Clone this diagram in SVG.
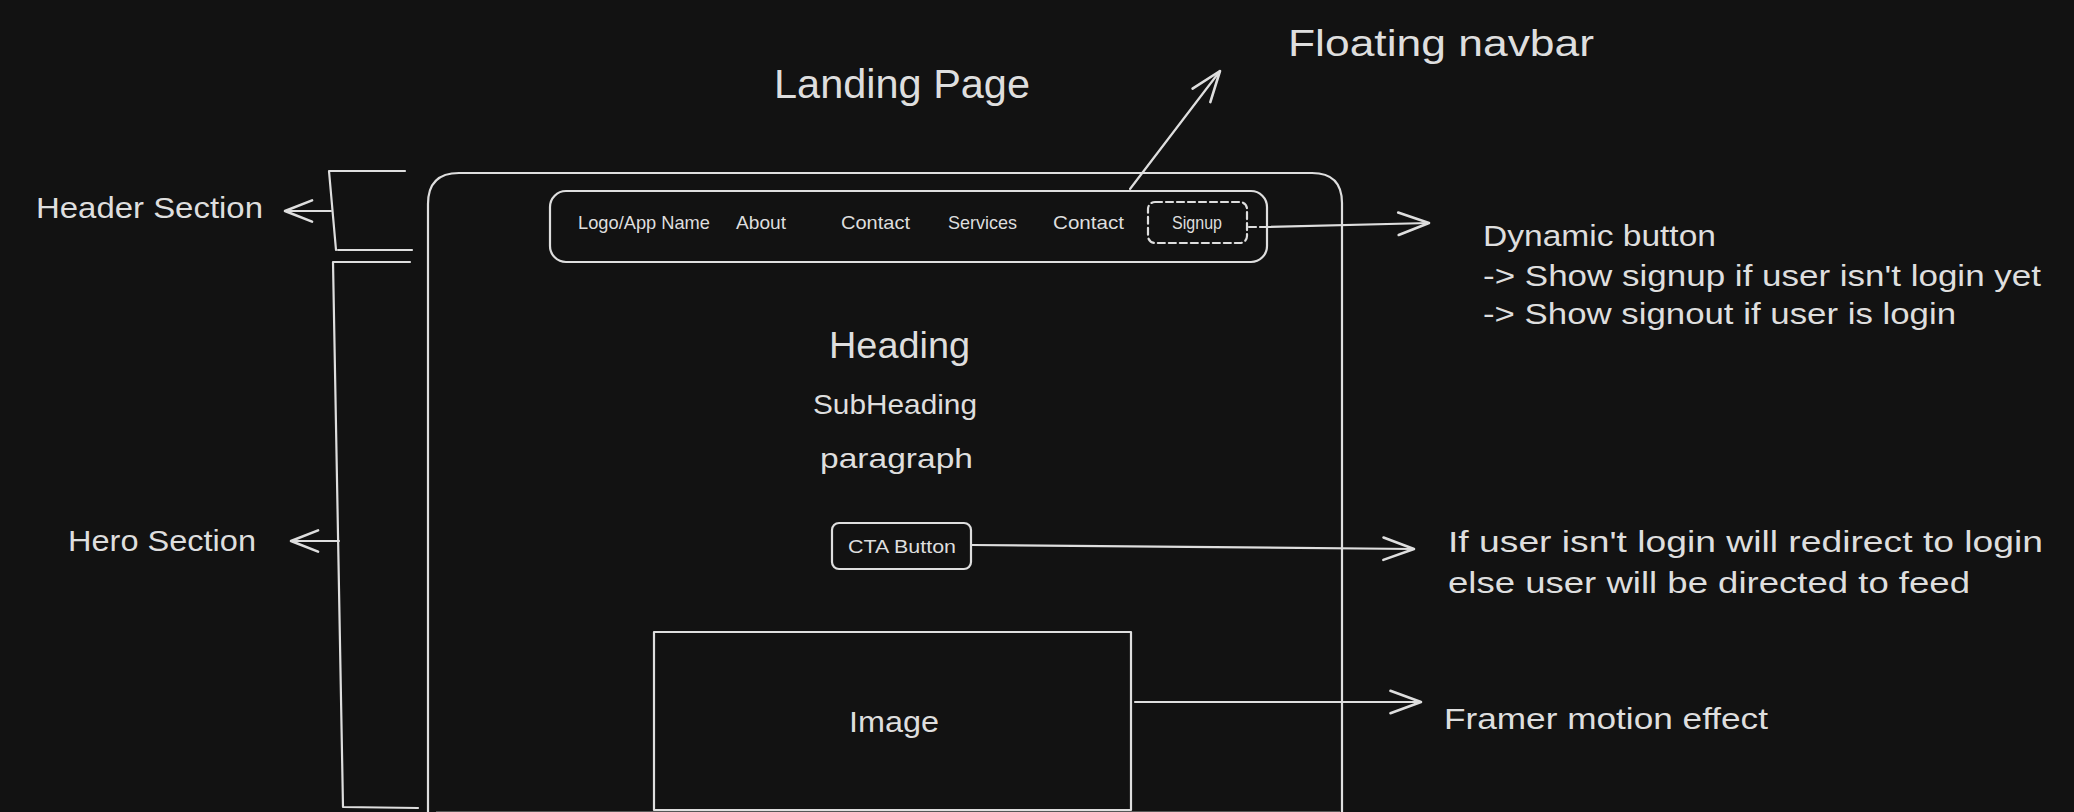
<svg xmlns="http://www.w3.org/2000/svg" width="2074" height="812" viewBox="0 0 2074 812">
<style>
.t{font-family:"Liberation Sans","DejaVu Sans",sans-serif;fill:#dedede;}
.s{fill:none;stroke:#dedede;stroke-width:2.2;stroke-linecap:round;stroke-linejoin:round;}
.dash{stroke-dasharray:7 4;}
</style>
<defs>
<marker id="ah" markerUnits="userSpaceOnUse" markerWidth="40" markerHeight="40" viewBox="-30 -15 34 30" refX="0" refY="0" orient="auto" overflow="visible">
<path d="M-26,-9.5 L0,0 L-26,9.5" fill="none" stroke="#dedede" stroke-width="2.2" stroke-linecap="round" stroke-linejoin="round"/>
</marker>
<marker id="ahs" markerUnits="userSpaceOnUse" markerWidth="40" markerHeight="40" viewBox="-30 -15 34 30" refX="0" refY="0" orient="auto" overflow="visible">
<path d="M-23,-9 L0,0 L-23,9" fill="none" stroke="#dedede" stroke-width="2.2" stroke-linecap="round" stroke-linejoin="round"/>
</marker>
</defs>
<rect x="0" y="0" width="2074" height="812" fill="#121212"/>

<g id="title">
<text class="t" x="774" y="98" font-size="40" textLength="256" lengthAdjust="spacingAndGlyphs">Landing Page</text>
</g>
<g id="floating-navbar-label">
<text class="t" x="1288" y="56" font-size="37" textLength="306" lengthAdjust="spacingAndGlyphs">Floating navbar</text>
</g>
<g id="header-section">
<text class="t" x="36" y="218" font-size="29" textLength="227" lengthAdjust="spacingAndGlyphs">Header Section</text>
<path class="s" d="M405,171 L329,171 L336,250"/>
<path class="s" d="M338,250 L412,250"/>
</g>
<g id="hero-section">
<text class="t" x="68" y="551" font-size="29" textLength="188" lengthAdjust="spacingAndGlyphs">Hero Section</text>
<path class="s" d="M410,262 L333,262 L343,807 L418,808"/>
</g>
<g id="page-frame">
<path class="s" d="M428,814 L428,204 Q428,173 459,173 L1312,173 Q1342,173 1342,203 L1342,814"/>
<path d="M436,812.5 L1340,812.5" fill="none" stroke="#9a9a9a" stroke-width="2"/>
</g>
<g id="navbar">
<rect class="s" x="550" y="191" width="717" height="71" rx="16"/>
<text class="t" x="578" y="229" font-size="19" textLength="132" lengthAdjust="spacingAndGlyphs">Logo/App Name</text>
<text class="t" x="736" y="229" font-size="19" textLength="50" lengthAdjust="spacingAndGlyphs">About</text>
<text class="t" x="841" y="229" font-size="19" textLength="69" lengthAdjust="spacingAndGlyphs">Contact</text>
<text class="t" x="948" y="229" font-size="19" textLength="69" lengthAdjust="spacingAndGlyphs">Services</text>
<text class="t" x="1053" y="229" font-size="19" textLength="71" lengthAdjust="spacingAndGlyphs">Contact</text>
</g>
<g id="signup-button">
<rect class="s dash" x="1148" y="202" width="99" height="41" rx="7"/>
<text class="t" x="1172" y="229" font-size="19" textLength="50" lengthAdjust="spacingAndGlyphs">Signup</text>
</g>
<g id="heading">
<text class="t" x="829" y="358" font-size="36" textLength="141" lengthAdjust="spacingAndGlyphs">Heading</text>
</g>
<g id="subheading">
<text class="t" x="813" y="414" font-size="28" textLength="164" lengthAdjust="spacingAndGlyphs">SubHeading</text>
</g>
<g id="paragraph">
<text class="t" x="820" y="468" font-size="28" textLength="153" lengthAdjust="spacingAndGlyphs">paragraph</text>
</g>
<g id="cta-button">
<rect class="s" x="832" y="523" width="139" height="46" rx="7"/>
<text class="t" x="848" y="553" font-size="19" textLength="108" lengthAdjust="spacingAndGlyphs">CTA Button</text>
</g>
<g id="image-box">
<rect class="s" x="654" y="632" width="477" height="178"/>
<text class="t" x="849" y="732" font-size="29" textLength="90" lengthAdjust="spacingAndGlyphs">Image</text>
</g>
<g id="dynamic-note">
<text class="t" x="1483" y="246" font-size="29" textLength="233" lengthAdjust="spacingAndGlyphs">Dynamic button</text>
<text class="t" x="1483" y="286" font-size="29" textLength="558" lengthAdjust="spacingAndGlyphs">-&gt; Show signup if user isn't login yet</text>
<text class="t" x="1483" y="324" font-size="29" textLength="473" lengthAdjust="spacingAndGlyphs">-&gt; Show signout if user is login</text>
</g>
<g id="cta-note">
<text class="t" x="1448" y="552" font-size="29" textLength="595" lengthAdjust="spacingAndGlyphs">If user isn't login will redirect to login</text>
<text class="t" x="1448" y="593" font-size="29" textLength="522" lengthAdjust="spacingAndGlyphs">else user will be directed to feed</text>
</g>
<g id="image-note">
<text class="t" x="1444" y="729" font-size="29" textLength="324" lengthAdjust="spacingAndGlyphs">Framer motion effect</text>
</g>

<g id="connectors">
<path class="s" d="M331,211 L285,211" marker-end="url(#ahs)"/>
<path class="s" d="M339,541 L291,541" marker-end="url(#ahs)"/>
<path class="s" d="M1130,189 L1220,71" marker-end="url(#ah)"/>
<path class="s dash" d="M1249,227 L1266,227"/>
<path class="s" d="M1266,227 L1429,223" marker-end="url(#ah)"/>
<path class="s" d="M972,545 L1414,549" marker-end="url(#ah)"/>
<path class="s" d="M1135,702 L1421,702" marker-end="url(#ah)"/>
</g>
</svg>
